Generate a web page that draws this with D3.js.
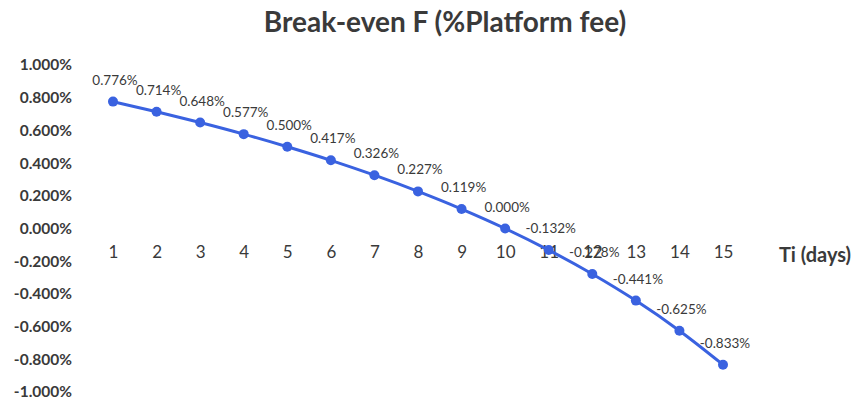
<!DOCTYPE html>
<html><head><meta charset="utf-8">
<script src="https://cdn.jsdelivr.net/npm/d3@7"></script>
<style>body{margin:0;background:#fff}</style>
</head><body>
<svg id="c" width="859" height="404"></svg>
<script>
const days = [1,2,3,4,5,6,7,8,9,10,11,12,13,14,15];
const breakEven = [0.776,0.714,0.648,0.577,0.500,0.417,0.326,0.227,0.119,0.000,-0.132,-0.278,-0.441,-0.625,-0.833];
const yTicks = [1.0,0.8,0.6,0.4,0.2,0.0,-0.2,-0.4,-0.6,-0.8,-1.0];
const title = "Break-even F (%Platform fee)";
const xTitle = "Ti (days)";

const svg = d3.select("#c");
const font = "Lato, 'Open Sans', sans-serif";
const txt = "#3a3a3a";
const blue = "#3A62E0";
const pct = d => d3.format(".3f")(d).replace("\u2212", "-") + "%";

const x = d3.scalePoint().domain(days).range([113, 723]);
const y = d3.scaleLinear().domain([-1, 1]).range([392, 65]);

svg.append("text").attr("x", 445).attr("y", 32).attr("text-anchor","middle")
  .attr("font-family", font).attr("font-weight","bold").attr("font-size", 28)
  .attr("fill", txt).text(title);

const yAxis = svg.append("g").attr("transform","translate(72,0)")
  .call(d3.axisLeft(y).tickValues(yTicks).tickSize(0).tickPadding(0).tickFormat(pct));
yAxis.select(".domain").remove();
yAxis.selectAll("text").attr("font-family", font).attr("font-weight","bold")
  .attr("font-size", 15.5).attr("fill", txt);

const xAxis = svg.append("g").attr("transform","translate(0,246)")
  .call(d3.axisBottom(x).tickSize(0).tickPadding(0));
xAxis.select(".domain").remove();
xAxis.selectAll("text").attr("font-family", font).attr("font-size", 17).attr("fill", txt);

svg.append("text").attr("x", 815).attr("y", 262).attr("text-anchor","middle")
  .attr("font-family", font).attr("font-weight","bold").attr("font-size", 20)
  .attr("fill", txt).text(xTitle);

const line = d3.line().x((d,i)=>x(days[i])).y(d=>y(d)).curve(d3.curveMonotoneX);
svg.append("path").datum(breakEven).attr("d", line).attr("fill","none")
  .attr("stroke", blue).attr("stroke-width", 3);

svg.append("g").selectAll("circle").data(breakEven).join("circle")
  .attr("cx",(d,i)=>x(days[i])).attr("cy", d=>y(d)).attr("r", 5).attr("fill", blue);

svg.append("g").selectAll("text").data(breakEven).join("text")
  .attr("x",(d,i)=>x(days[i]) + 2).attr("y", d=>y(d) - 17)
  .attr("text-anchor","middle").attr("font-family", font).attr("font-size", 13.5)
  .attr("fill", txt).text(pct);
</script>
</body></html>
